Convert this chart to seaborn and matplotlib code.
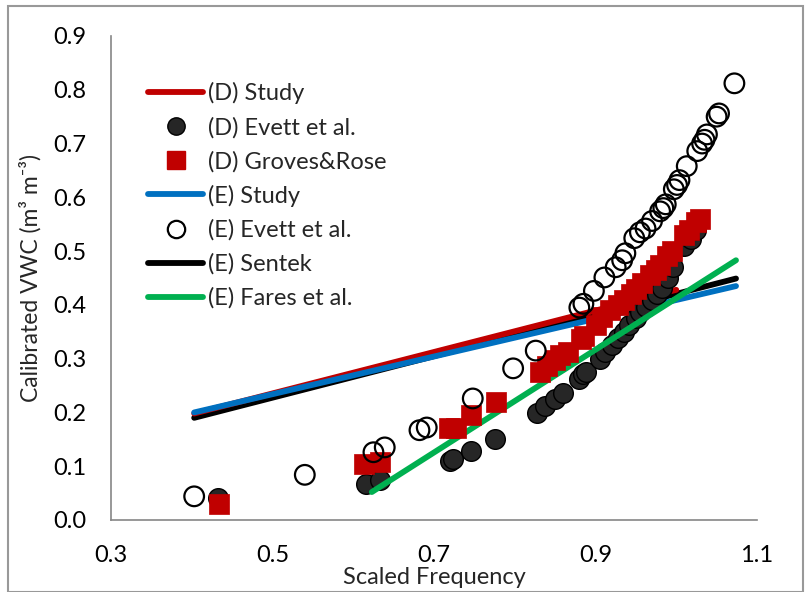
import matplotlib
matplotlib.use("Agg")
import matplotlib.pyplot as plt
import seaborn as sns
from matplotlib.lines import Line2D
from matplotlib.patches import Rectangle

# ---------------- data ----------------
d_study_x = [0.403, 1.0]
d_study_y = [0.198, 0.428]

e_study_x = [0.403, 1.074]
e_study_y = [0.200, 0.435]

e_sentek_x = [0.403, 1.074]
e_sentek_y = [0.190, 0.449]

e_fares_x = [0.623, 1.074]
e_fares_y = [0.052, 0.483]

d_evett_x = [0.433, 0.616, 0.633, 0.720, 0.724, 0.746, 0.776, 0.828, 0.838, 0.850, 0.860,
             0.880, 0.884, 0.888, 0.905, 0.912, 0.920, 0.928, 0.935, 0.942, 0.950, 0.955,
             0.962, 0.970, 0.976, 0.982, 0.990, 0.996, 1.010, 1.018, 1.025]
d_evett_y = [0.040, 0.067, 0.074, 0.110, 0.114, 0.128, 0.151, 0.199, 0.212, 0.225, 0.237,
             0.263, 0.272, 0.276, 0.300, 0.312, 0.325, 0.338, 0.350, 0.362, 0.375, 0.386,
             0.396, 0.410, 0.420, 0.432, 0.450, 0.470, 0.510, 0.522, 0.540]

d_groves_x = [0.434, 0.613, 0.633, 0.719, 0.727, 0.746, 0.777, 0.831, 0.840, 0.850, 0.856,
              0.866, 0.882, 0.886, 0.900, 0.908, 0.918, 0.928, 0.935, 0.944, 0.950, 0.958,
              0.968, 0.975, 0.980, 0.988, 0.995, 1.010, 1.016, 1.024, 1.030]
d_groves_y = [0.030, 0.104, 0.108, 0.171, 0.172, 0.195, 0.220, 0.275, 0.286, 0.297, 0.307,
              0.312, 0.336, 0.342, 0.362, 0.377, 0.390, 0.400, 0.410, 0.420, 0.430, 0.440,
              0.455, 0.465, 0.475, 0.490, 0.500, 0.530, 0.540, 0.555, 0.560]

e_evett_x = [0.403, 0.540, 0.625, 0.639, 0.682, 0.691, 0.748, 0.798, 0.826, 0.880, 0.885,
             0.898, 0.911, 0.925, 0.933, 0.937, 0.948, 0.955, 0.962, 0.970, 0.980, 0.984,
             0.987, 0.997, 1.001, 1.004, 1.013, 1.026, 1.032, 1.035, 1.038, 1.050, 1.053, 1.072]
e_evett_y = [0.044, 0.084, 0.126, 0.135, 0.167, 0.172, 0.226, 0.282, 0.315, 0.395, 0.402,
             0.426, 0.451, 0.470, 0.483, 0.496, 0.524, 0.535, 0.542, 0.556, 0.574, 0.580,
             0.587, 0.615, 0.623, 0.632, 0.658, 0.686, 0.700, 0.707, 0.717, 0.750, 0.756, 0.812]

x_ticks = [0.3, 0.5, 0.7, 0.9, 1.1]
y_ticks = [0.0, 0.1, 0.2, 0.3, 0.4, 0.5, 0.6, 0.7, 0.8, 0.9]

legend_labels = ["(D) Study", "(D) Evett et al.", "(D) Groves&Rose", "(E) Study",
                 "(E) Evett et al.", "(E) Sentek", "(E) Fares et al."]

# ---------------- style ----------------
sns.set_style("white")
plt.rcParams['font.family'] = ['Lato', 'DejaVu Sans']
FS = 17

RED = "#C00000"
BLUE = "#0070C0"
GREEN = "#00B050"
DARK = "#262626"
GRAY = "#868686"

fig = plt.figure(figsize=(8.10, 5.92), dpi=100)
ax = fig.add_axes([111/810, 1-520/592, (757-111)/810, (520-36)/592])

LW = 4.2
sns.lineplot(x=e_sentek_x, y=e_sentek_y, ax=ax, color="black", linewidth=LW, zorder=2.0)
sns.lineplot(x=d_study_x, y=d_study_y, ax=ax, color=RED, linewidth=LW, zorder=2.1)
sns.lineplot(x=e_study_x, y=e_study_y, ax=ax, color=BLUE, linewidth=LW, zorder=2.2)

MS = 200
sns.scatterplot(x=d_evett_x, y=d_evett_y, ax=ax, s=MS, color=DARK, edgecolor="black",
                linewidth=1.0, zorder=3)
sns.lineplot(x=e_fares_x, y=e_fares_y, ax=ax, color=GREEN, linewidth=LW, zorder=3.5)
sns.scatterplot(x=d_groves_x, y=d_groves_y, ax=ax, s=MS, marker="s", color=RED,
                edgecolor=RED, linewidth=0.5, zorder=4)
sns.scatterplot(x=e_evett_x, y=e_evett_y, ax=ax, s=MS, facecolor="none", edgecolor="black",
                linewidth=1.6, zorder=5)

ax.set_xlim(0.3, 1.1)
ax.set_ylim(0.0, 0.9)
ax.set_xticks(x_ticks)
ax.set_yticks(y_ticks)
ax.set_xticklabels([f"{v:.1f}" for v in x_ticks], fontsize=FS)
ax.set_yticklabels([f"{v:.1f}" for v in y_ticks], fontsize=FS)
ax.tick_params(axis="x", direction="out", length=8, width=1.2, color=GRAY, pad=10, labelcolor="black")
ax.tick_params(axis="y", direction="out", length=6, width=1.2, color=GRAY, pad=12, labelcolor="black")
for s in ["top", "right"]:
    ax.spines[s].set_visible(False)
for s in ["left", "bottom"]:
    ax.spines[s].set_color(GRAY)
    ax.spines[s].set_linewidth(1.2)

ax.set_xlabel("Scaled Frequency", fontsize=FS)
ax.xaxis.set_label_coords(0.5, -0.098)
ax.set_ylabel("Calibrated VWC (m³ m⁻³)", fontsize=16.5)
ax.yaxis.set_label_coords(-0.108, 0.5)

handles = [
    Line2D([], [], color=RED, lw=LW),
    Line2D([], [], ls="none", marker="o", markersize=12.5, markerfacecolor=DARK, markeredgecolor="black"),
    Line2D([], [], ls="none", marker="s", markersize=12.5, markerfacecolor=RED, markeredgecolor=RED),
    Line2D([], [], color=BLUE, lw=LW),
    Line2D([], [], ls="none", marker="o", markersize=12.5, markerfacecolor="none", markeredgecolor="black", markeredgewidth=1.6),
    Line2D([], [], color="black", lw=LW),
    Line2D([], [], color=GREEN, lw=LW),
]
leg = ax.legend(handles, legend_labels, loc="upper left", bbox_to_anchor=(0.057, 0.905),
                frameon=False, fontsize=FS, handlelength=2.35, handletextpad=0.2,
                labelspacing=0.53, borderaxespad=0, borderpad=0)

fig.add_artist(Rectangle((8/810, 0.0), (803-8)/810, 1-6/592, transform=fig.transFigure,
                         fill=False, edgecolor="#999999", lw=1.5))

fig.savefig("out.png", dpi=100)
